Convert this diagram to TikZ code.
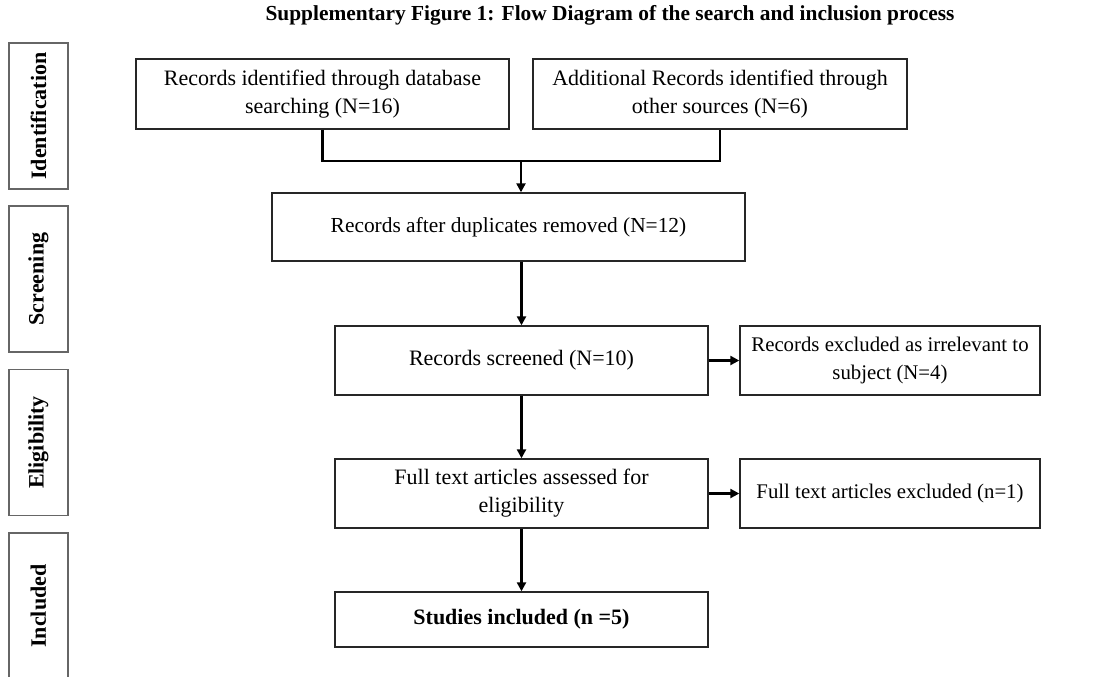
\documentclass[tikz,border=0pt]{standalone}
\usepackage{fontspec}
\setmainfont{Liberation Serif}
\usetikzlibrary{arrows.meta}

\begin{document}
\begin{tikzpicture}[x=0.5pt,y=-0.5pt,
  box/.style={draw=black!85,line width=0.7pt,align=center,inner sep=1pt,font=\fontsize{11}{14}\selectfont},
  phase/.style={draw=black!60,line width=0.7pt,rotate=90,minimum width=73pt,minimum height=29.5pt,inner sep=0pt,font=\bfseries\fontsize{11}{13}\selectfont},
  conn/.style={line width=1.4pt},
  arr/.style={conn,-{Triangle[length=4.5pt,width=4.5pt]}}]

\useasboundingbox (0,0) rectangle (1105,676);
\clip (0,0) rectangle (1105,676);

% Title
\node[font=\bfseries\fontsize{10.7}{13}\selectfont] (title) at (610,15) {Supplementary Figure 1: Flow Diagram of the search and inclusion process};

% Phases
\node[phase] (phident) at (38.5,116) {Identification};
\node[phase] (phscreen) at (38.5,279) {Screening};
\node[phase] (phelig) at (38.5,442.5) {Eligibility};
\node[phase] (phincl) at (38.5,606) {Included};

% Boxes
\node[box,minimum width=186.5pt,minimum height=35pt] (db) at (322.5,94) {Records identified through database\\searching (N=16)};
\node[box,minimum width=187pt,minimum height=35pt] (other) at (720,94) {Additional Records identified through\\other sources (N=6)};
\node[box,minimum width=236.5pt,minimum height=34pt,font=\fontsize{10.7}{14}\selectfont] (dup) at (508.5,227) {Records after duplicates removed (N=12)};
\node[box,minimum width=186.5pt,minimum height=34.5pt] (screen) at (521.5,360.5) {Records screened (N=10)};
\node[box,minimum width=150pt,minimum height=34.5pt,font=\fontsize{10.4}{14}\selectfont] (irrel) at (890,360.5) {Records excluded as irrelevant to\\subject (N=4)};
\node[box,minimum width=186.5pt,minimum height=34.5pt] (full) at (521.5,493.5) {Full text articles assessed for\\eligibility};
\node[box,minimum width=150pt,minimum height=34.5pt,font=\fontsize{10.4}{14}\selectfont] (fullex) at (890,493.5) {Full text articles excluded (n=1)};
\node[box,minimum width=186.5pt,minimum height=27.5pt,font=\bfseries\fontsize{11}{14}\selectfont] (final) at (521.5,619.5) {Studies included (n =5)};

% Connectors
\coordinate (join) at (521,161);
\draw[conn] (db.south) |- (join) -| (other.south);
\draw[arr] (join) -- (join |- dup.north);
\draw[arr] (dup.south -| screen.north) -- (screen.north);
\draw[arr] (screen.south) -- (full.north);
\draw[arr] (full.south) -- (final.north);
\draw[arr] (screen.east) -- (irrel.west);
\draw[arr] (full.east) -- (fullex.west);

\end{tikzpicture}
\end{document}
